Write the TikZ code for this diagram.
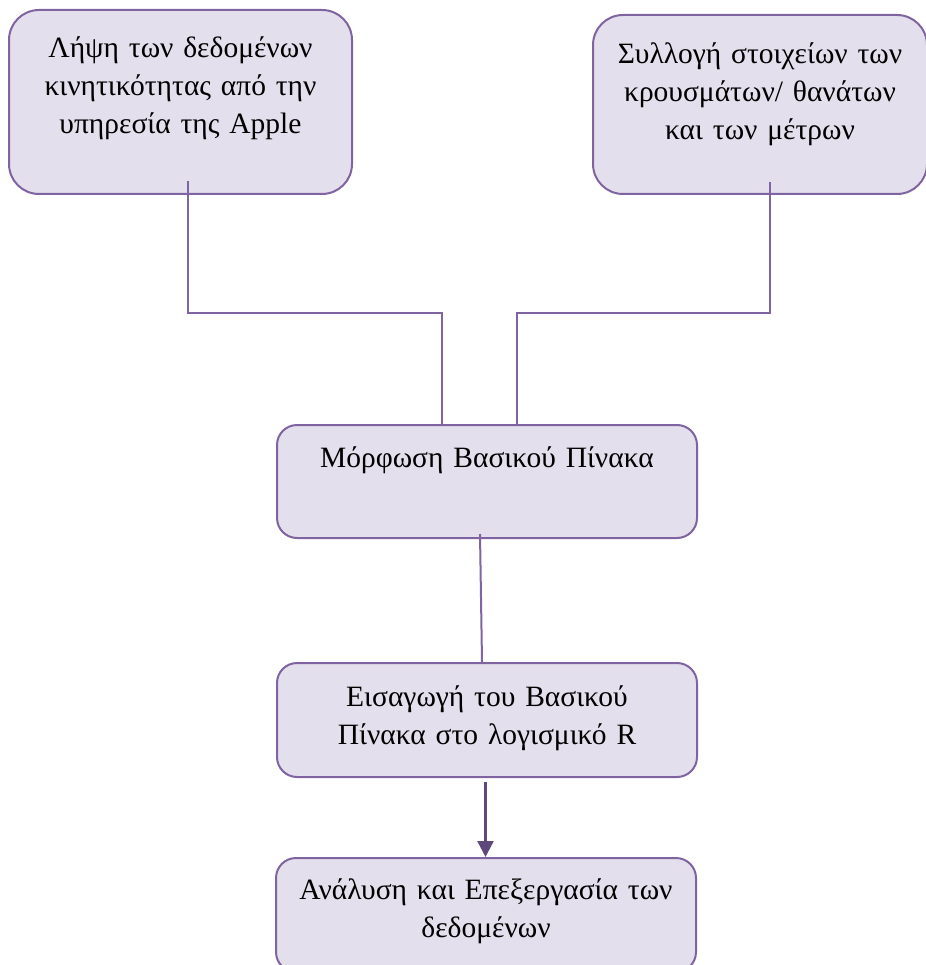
\documentclass[tikz,border=0pt]{standalone}
\usepackage{fontspec}
\setmainfont{Liberation Serif}
\usepackage{tikz}
\usetikzlibrary{arrows.meta,positioning,calc}
\definecolor{boxfill}{HTML}{E4DFEC}
\definecolor{boxline}{HTML}{8064A2}
\definecolor{arrowline}{HTML}{5F497A}
\tikzset{%
	block/.style = {draw=boxline, fill=boxfill, line width=2pt, rounded corners=20pt, anchor=base, inner xsep=10pt, inner ysep=0pt, align=center, font=\fontsize{29.5pt}{38pt}\selectfont},
	link/.style  = {draw=boxline, line width=2pt},
	arrow/.style = {draw=arrowline, line width=2.5pt, -{Triangle[length=16pt,width=16pt]}},
}
\begin{document}
\begin{tikzpicture}[x=1pt,y=1pt]
		\useasboundingbox (0,0) rectangle (925,-965);
		\node[block, rounded corners=30pt, text width=323pt, text height=48pt, text depth=136pt] (apple) at (180.5,-58) {Λήψη των δεδομένων\\ κινητικότητας από την\\ υπηρεσία της Apple};
		\node[block, rounded corners=30pt, text width=314pt, text height=49pt, text depth=130pt] (cases) at (760,-64) {Συλλογή στοιχείων των\\ κρουσμάτων/ θανάτων\\ και των μέτρων};
		\node[block, text width=400pt, text height=42pt, text depth=71pt] (table) at (487,-467) {Μόρφωση Βασικού Πίνακα};
		\node[block, text width=400pt, text height=43pt, text depth=71pt] (import) at (487,-706) {Εισαγωγή του Βασικού\\ Πίνακα στο λογισμικό R};
		\node[block, text width=400pt, text height=41pt, text depth=73pt] (analysis) at (486,-899) {Ανάλυση και Επεξεργασία των\\ δεδομένων};
		
		\draw[link] ([xshift=7.5pt,yshift=14pt]apple.south) -- ++(0,-132pt) -| ([xshift=-45pt]table.north);
		\draw[link] ([xshift=10pt,yshift=13pt]cases.south) -- ++(0,-131pt) -| ([xshift=30pt]table.north);
		\draw[link] ([xshift=-7pt,yshift=5pt]table.south) -- ([xshift=-5pt]import.north);
		
		\draw[arrow] ([xshift=-1.5pt,yshift=-4pt]import.south) -- ([xshift=-0.5pt]analysis.north);
		
		\end{tikzpicture}
\end{document}
